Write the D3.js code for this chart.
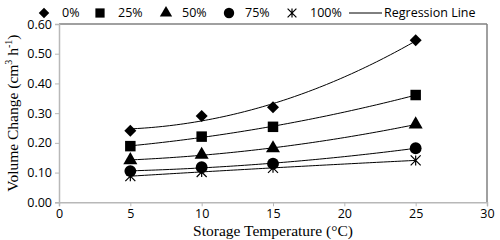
<!DOCTYPE html>
<html><head><meta charset="utf-8">
<script src="https://cdn.jsdelivr.net/npm/d3@7"></script>
<style>body{margin:0;background:#fff}svg{display:block}</style>
</head><body>
<svg id="c" width="500" height="240"></svg>
<script>
const temps = [5, 10, 15, 25];
const seriesNames = ["0%", "25%", "50%", "75%", "100%"];
const v0 = [0.241, 0.290, 0.320, 0.545];
const v25 = [0.189, 0.221, 0.254, 0.361];
const v50 = [0.142, 0.160, 0.182, 0.262];
const v75 = [0.105, 0.118, 0.130, 0.182];
const v100 = [0.088, 0.102, 0.116, 0.141];
const yTicks = [0, 0.1, 0.2, 0.3, 0.4, 0.5, 0.6];
const xTicks = [0, 5, 10, 15, 20, 25, 30];
const allValues = [v0, v25, v50, v75, v100];
const symbols = ["diamond", d3.symbolSquare, d3.symbolTriangle, d3.symbolCircle, null];

const svg = d3.select("#c");
const L = 59, R = 487, T = 24, B = 202.3;
const x = d3.scaleLinear().domain([0, 30]).range([L, R]);
const y = d3.scaleLinear().domain([0, 0.6]).range([B, T]);
const tickFont = "Open Sans, Lato, sans-serif";

svg.append("line").attr("x1", L).attr("x2", R).attr("y1", T).attr("y2", T).attr("stroke", "#808080").attr("stroke-width", 1.5);
svg.append("line").attr("x1", R).attr("x2", R).attr("y1", T).attr("y2", B).attr("stroke", "#808080").attr("stroke-width", 1.5);

const gx = svg.append("g").attr("transform", `translate(0,${B})`)
  .call(d3.axisBottom(x).tickValues(xTicks).tickSize(4).tickPadding(3).tickFormat(d3.format("d")));
const gy = svg.append("g").attr("transform", `translate(${L},0)`)
  .call(d3.axisLeft(y).tickValues(yTicks).tickSize(4).tickPadding(3).tickFormat(d3.format(".2f")));
[gx, gy].forEach(g => {
  g.select(".domain").attr("stroke", "#b8b8b8").attr("stroke-width", 1.5);
  g.selectAll(".tick line").attr("stroke", "#b8b8b8");
  g.selectAll("text").attr("font-family", tickFont).attr("font-size", 12.5).attr("fill", "#000");
});

// second-order polynomial trendline (least squares), computed from the data
function polyFit(xs, ys) {
  let S = [0, 0, 0, 0, 0], Ty = [0, 0, 0];
  xs.forEach((xi, i) => {
    for (let k = 0; k < 5; k++) S[k] += xi ** k;
    for (let k = 0; k < 3; k++) Ty[k] += ys[i] * xi ** k;
  });
  const M = [[S[0], S[1], S[2], Ty[0]], [S[1], S[2], S[3], Ty[1]], [S[2], S[3], S[4], Ty[2]]];
  for (let c = 0; c < 3; c++) {
    for (let r = c + 1; r < 3; r++) {
      const f = M[r][c] / M[c][c];
      for (let k = c; k < 4; k++) M[r][k] -= f * M[c][k];
    }
  }
  const co = [0, 0, 0];
  for (let r = 2; r >= 0; r--) {
    let s = M[r][3];
    for (let k = r + 1; k < 3; k++) s -= M[r][k] * co[k];
    co[r] = s / M[r][r];
  }
  return t => co[0] + co[1] * t + co[2] * t * t;
}
const line = d3.line().x(d => x(d[0])).y(d => y(d[1]));
allValues.forEach(vals => {
  const f = polyFit(temps, vals);
  const pts = d3.range(5, 25.01, 0.25).map(t => [t, f(t)]);
  svg.append("path").attr("d", line(pts)).attr("fill", "none").attr("stroke", "#000").attr("stroke-width", 1);
});

function drawMarker(g, i, cx, cy, scale) {
  if (symbols[i] === "diamond") {
    const s = 6 * scale;
    g.append("path").attr("d", `M${cx},${cy - s}L${cx + s},${cy}L${cx},${cy + s}L${cx - s},${cy}Z`).attr("fill", "#000");
  } else if (symbols[i]) {
    const sizes = [0, 110, 85, 110];
    g.append("path").attr("d", d3.symbol().type(symbols[i]).size(sizes[i] * scale * scale)())
      .attr("transform", `translate(${cx},${cy})`).attr("fill", "#000");
  } else {
    const s = 5 * scale;
    g.append("path").attr("d", `M${cx - s},${cy - s}L${cx + s},${cy + s}M${cx - s},${cy + s}L${cx + s},${cy - s}M${cx},${cy - s}L${cx},${cy + s}`)
      .attr("stroke", "#000").attr("stroke-width", 1.2).attr("fill", "none");
  }
}
allValues.forEach((vals, i) => {
  vals.forEach((v, j) => drawMarker(svg, i, x(temps[j]), y(v), 1));
});

const legMarkX = [44, 100, 166, 229, 292];
const legTextX = [62, 118, 182, 245, 310];
const legY = 13;
seriesNames.forEach((n, i) => {
  drawMarker(svg, i, legMarkX[i], legY, 0.88);
  svg.append("text").attr("x", legTextX[i]).attr("y", legY).attr("dy", "0.35em")
    .attr("font-family", tickFont).attr("font-size", 12.5).text(n);
});
svg.append("line").attr("x1", 349).attr("x2", 382).attr("y1", legY).attr("y2", legY).attr("stroke", "#000");
svg.append("text").attr("x", 384).attr("y", legY).attr("dy", "0.35em")
  .attr("font-family", tickFont).attr("font-size", 12.5).text("Regression Line");

svg.append("text").attr("x", (L + R) / 2).attr("y", 236).attr("text-anchor", "middle")
  .attr("font-family", "Liberation Serif, Times New Roman, serif").attr("font-size", 15.5)
  .text("Storage Temperature (°C)");
const yt = svg.append("text").attr("transform", `translate(18,${(T + B) / 2}) rotate(-90)`)
  .attr("text-anchor", "middle").attr("font-family", "Liberation Serif, Times New Roman, serif").attr("font-size", 15.5);
yt.append("tspan").text("Volume Change (cm");
yt.append("tspan").attr("font-size", 10).attr("dy", -6).text("3");
yt.append("tspan").attr("dy", 6).text(" h");
yt.append("tspan").attr("font-size", 10).attr("dy", -6).text("-1");
yt.append("tspan").attr("dy", 6).text(")");
</script>
</body></html>
